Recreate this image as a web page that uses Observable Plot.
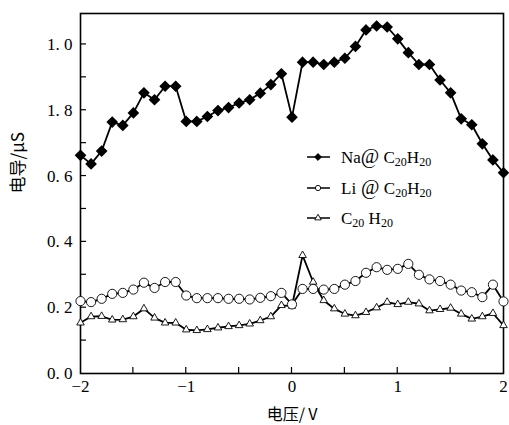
<!DOCTYPE html>
<html><head><meta charset="utf-8">
<script src="https://cdn.jsdelivr.net/npm/d3@7"></script>
<script src="https://cdn.jsdelivr.net/npm/@observablehq/plot@0.6"></script>
<style>body{margin:0;background:#fff;} svg{font-family:"Liberation Serif",serif;}</style>
</head><body><div id="chart"></div>
<script>
const voltage = d3.range(41).map(i => +(-2 + i * 0.1).toFixed(1));
const naValues = [0.663,0.637,0.676,0.764,0.754,0.792,0.853,0.832,0.873,0.873,0.766,0.766,0.781,0.799,0.808,0.822,0.832,0.852,0.878,0.911,0.779,0.946,0.946,0.939,0.946,0.958,0.994,1.044,1.056,1.053,1.017,0.975,0.939,0.939,0.892,0.853,0.774,0.756,0.698,0.649,0.610];
const liValues = [0.220,0.217,0.227,0.242,0.245,0.255,0.276,0.260,0.278,0.278,0.237,0.229,0.229,0.229,0.227,0.227,0.225,0.230,0.235,0.245,0.210,0.257,0.257,0.255,0.257,0.270,0.281,0.306,0.323,0.315,0.318,0.333,0.300,0.286,0.281,0.270,0.252,0.247,0.232,0.270,0.219];
const cValues = [0.154,0.173,0.174,0.163,0.164,0.173,0.197,0.169,0.154,0.154,0.133,0.131,0.134,0.139,0.143,0.146,0.151,0.161,0.173,0.207,0.205,0.359,0.278,0.222,0.197,0.181,0.176,0.186,0.200,0.217,0.210,0.217,0.212,0.191,0.195,0.199,0.181,0.166,0.173,0.183,0.146];
const xTickValues = [-2,-1,0,1,2];
const xTickLabels = ["−2","−1","0","1","2"];
const xMinorTicks = [-1.5,-1,-0.5,0,0.5,1,1.5];
const yTickValues = [0,0.2,0.4,0.6,0.8,1.0];
const yTickLabels = ["0.\u00a00","0.\u00a02","0.\u00a04","0.\u00a06","1.\u00a08","1.\u00a00"];
const yMinorTicks = [0.1,0.2,0.3,0.4,0.5,0.6,0.7,0.8,0.9,1.0];
const xLabel = "电压/\u2009V";
const yLabel = "电导/μS";

const na = voltage.map((v,i)=>({v, g: naValues[i]}));
const li = voltage.map((v,i)=>({v, g: liValues[i]}));
const c0 = voltage.map((v,i)=>({v, g: cValues[i]}));

const chart = Plot.plot({
  width: 509, height: 425,
  marginLeft: 80, marginRight: 6, marginTop: 13, marginBottom: 52,
  x: {domain: [-2, 2]},
  y: {domain: [0, 1.094]},
  style: {fontFamily: "Liberation Serif, serif", fontSize: "16px", color: "#000"},
  marks: [
    Plot.axisX({ticks: xTickValues, tickSize: 0, tickPadding: 6, tickFormat: d => xTickLabels[xTickValues.indexOf(d)], label: null, fontSize: 17}),
    Plot.axisY({ticks: yTickValues, tickSize: 0, tickPadding: 8, tickFormat: d => yTickLabels[yTickValues.findIndex(t => Math.abs(t-d)<1e-9)], label: null, fontSize: 17}),
    Plot.frame({strokeWidth: 1.6}),
    Plot.line(c0, {x: "v", y: "g", strokeWidth: 1.8}),
    Plot.dot(c0, {x: "v", y: "g", symbol: "triangle", r: 2.8, fill: "white", stroke: "black", strokeWidth: 0.9}),
    Plot.line(li, {x: "v", y: "g", strokeWidth: 1.8}),
    Plot.dot(li, {x: "v", y: "g", symbol: "circle", r: 4.6, fill: "white", stroke: "black", strokeWidth: 0.9}),
    Plot.line(na, {x: "v", y: "g", strokeWidth: 1.8}),
    Plot.dot(na, {x: "v", y: "g", symbol: "diamond2", r: 4.3, fill: "black", stroke: "black"}),
    Plot.text([xLabel], {frameAnchor: "bottom", dy: 41, lineAnchor: "middle", fontFamily: "Noto Sans CJK SC", fontSize: 16}),
    Plot.text([yLabel], {frameAnchor: "left", dx: -62, rotate: -90, fontFamily: "Noto Sans CJK SC", fontSize: 17})
  ]
});
document.getElementById("chart").append(chart);

const svg = d3.select(chart);
const sx = chart.scale("x"), sy = chart.scale("y");
const x0 = sx.apply(-2), y0 = sy.apply(0);
// inward ticks
const tk = svg.append("g").attr("stroke", "black").attr("stroke-width", 1.2);
xMinorTicks.forEach(v => {
  const px = sx.apply(v);
  tk.append("line").attr("x1", px).attr("x2", px).attr("y1", y0).attr("y2", y0 - 6);
});
yMinorTicks.forEach(v => {
  const py = sy.apply(v);
  tk.append("line").attr("x1", x0).attr("x2", x0 + 6).attr("y1", py).attr("y2", py);
});

// legend
const leg = svg.append("g");
const rows = [
  {y: 157, sym: d3.symbolDiamond2, size: 30, fill: "black", parts: [["Na",0],["@",0],[" C",0],["20",1],["H",0],["20",1]]},
  {y: 188, sym: d3.symbolCircle, size: 22, fill: "white", parts: [["Li",0],[" @",0],[" C",0],["20",1],["H",0],["20",1]]},
  {y: 218, sym: d3.symbolTriangle, size: 18, fill: "white", parts: [["C",0],["20",1],[" H",0],["20",1]]}
];
rows.forEach(r => {
  leg.append("line").attr("x1", 307).attr("x2", 330).attr("y1", r.y).attr("y2", r.y).attr("stroke", "black").attr("stroke-width", 1.5);
  leg.append("path").attr("d", d3.symbol(r.sym, r.size)()).attr("transform", `translate(318,${r.y})`).attr("fill", r.fill).attr("stroke", "black").attr("stroke-width", 0.9);
  const t = leg.append("text").attr("x", 341).attr("y", r.y + 5.5).attr("font-size", 17)
    .attr("text-anchor", "start").attr("font-family", "Liberation Serif, serif").attr("xml:space", "preserve").style("white-space", "pre");
  r.parts.forEach(([s, sub], i) => {
    const prev = i > 0 ? r.parts[i-1][1] : 0;
    const ts = t.append("tspan").text(s).attr("dy", sub - prev === 1 ? 3 : sub - prev === -1 ? -3 : 0);
    if (sub) ts.attr("font-size", 12);
    if (s === "@" || s === " @") ts.attr("font-size", 20);
  });
});
</script></body></html>
